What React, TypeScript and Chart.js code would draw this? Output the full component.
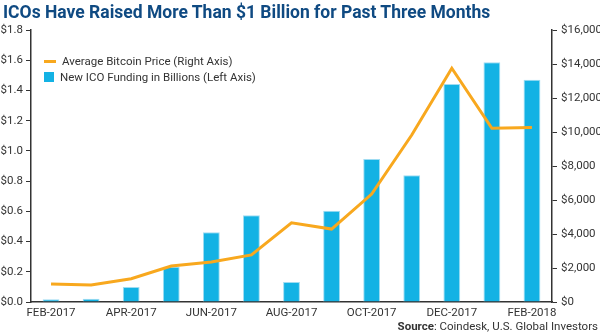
import React, { useEffect, useRef } from "react";
import { Chart, registerables } from "chart.js";

Chart.register(...registerables);

const categories = ["FEB-2017","MAR-2017","APR-2017","MAY-2017","JUN-2017","JUL-2017","AUG-2017","SEP-2017","OCT-2017","NOV-2017","DEC-2017","JAN-2018","FEB-2018"];
const icoFunding = [0.018, 0.022, 0.10, 0.234, 0.461, 0.574, 0.132, 0.604, 0.946, 0.838, 1.443, 1.586, 1.471];
const bitcoinPrice = [1060, 1000, 1370, 2120, 2350, 2770, 4660, 4290, 6350, 9820, 13750, 10220, 10260];

const TITLE = "ICOs Have Raised More Than $1 Billion for Past Three Months";
const LINE_LABEL = "Average Bitcoin Price (Right Axis)";
const BAR_LABEL = "New ICO Funding in Billions (Left Axis)";

const NARROW = '"Liberation Sans Narrow", "Roboto", sans-serif';

export default function App() {
  const ref = useRef<HTMLCanvasElement | null>(null);
  useEffect(() => {
    if (!ref.current) return;
    const chart = new Chart(ref.current, {
      data: {
        labels: categories,
        datasets: [
          {
            type: "line",
            label: LINE_LABEL,
            data: bitcoinPrice,
            yAxisID: "y1",
            borderColor: "#f8a81e",
            borderWidth: 3,
            pointRadius: 0,
            tension: 0,
            order: 0,
          },
          {
            type: "bar",
            label: BAR_LABEL,
            data: icoFunding,
            yAxisID: "y",
            backgroundColor: "#13b2e4",
            borderColor: "#9fdcf2",
            borderWidth: 1,
            categoryPercentage: 1,
            barPercentage: 0.42,
            order: 1,
          },
        ],
      } as any,
      options: {
        animation: false,
        responsive: false,
        maintainAspectRatio: false,
        layout: { padding: { top: 30, left: 0, right: 0, bottom: 0 } },
        plugins: { legend: { display: false }, title: { display: false }, tooltip: { enabled: false } },
        scales: {
          x: {
            grid: { display: false, drawTicks: false },
            border: { display: true, color: "#333", width: 1.5 },
            ticks: {
              autoSkip: false,
              maxRotation: 0,
              minRotation: 0,
              padding: 4,
              color: "#333",
              font: { family: NARROW, size: 11.5 },
              callback: (_v: any, i: number) => (i % 2 === 0 ? categories[i] : ""),
            },
            afterFit: (s: any) => { s.height = 32; },
          },
          y: {
            position: "left",
            min: 0,
            max: 1.8,
            grid: { display: true, drawOnChartArea: false, drawTicks: true, tickLength: 5, color: "#333" },
            border: { display: true, color: "#333", width: 1.5 },
            ticks: {
              stepSize: 0.2,
              padding: 3,
              color: "#333",
              font: { family: NARROW, size: 11.5 },
              callback: (v: any) => "$" + Number(v).toFixed(1),
            },
            afterFit: (s: any) => { s.width = 31; },
          },
          y1: {
            position: "right",
            min: 0,
            max: 16000,
            grid: { display: true, drawOnChartArea: false, drawTicks: true, tickLength: 5, color: "#333" },
            border: { display: true, color: "#333", width: 1.5 },
            ticks: {
              stepSize: 2000,
              padding: 4,
              color: "#333",
              font: { family: NARROW, size: 11.5 },
              callback: (v: any) => "$" + Number(v).toLocaleString("en-US"),
            },
            afterFit: (s: any) => { s.width = 48; },
          },
        },
      },
    });
    return () => chart.destroy();
  }, []);

  return (
    <div style={{ position: "absolute", left: 0, top: 0, width: 600, height: 334, background: "#fff", overflow: "hidden" }}>
      <canvas ref={ref} width={600} height={334} style={{ position: "absolute", left: 0, top: 0, width: 600, height: 334 }} />
      <div style={{ position: "absolute", left: 3, top: 2, fontFamily: NARROW, fontWeight: "bold", fontSize: 17.5, color: "#0f4a82", whiteSpace: "nowrap" }}>
        {TITLE}
      </div>
      <div style={{ position: "absolute", left: 44, top: 53, fontFamily: NARROW, fontSize: 11.5, color: "#333", whiteSpace: "nowrap" }}>
        <div style={{ display: "flex", alignItems: "center", height: 16 }}>
          <span style={{ display: "inline-block", width: 12, height: 3, background: "#f8a81e", marginRight: 6 }} />
          <span>{LINE_LABEL}</span>
        </div>
        <div style={{ display: "flex", alignItems: "center", height: 16 }}>
          <span style={{ display: "inline-block", width: 10, height: 10, background: "#13b2e4", marginRight: 6 }} />
          <span>{BAR_LABEL}</span>
        </div>
      </div>
      <div style={{ position: "absolute", right: 2, top: 319, fontFamily: NARROW, fontSize: 11.5, color: "#333", whiteSpace: "nowrap" }}>
        <b>Source</b>: Coindesk, U.S. Global Investors
      </div>
    </div>
  );
}
